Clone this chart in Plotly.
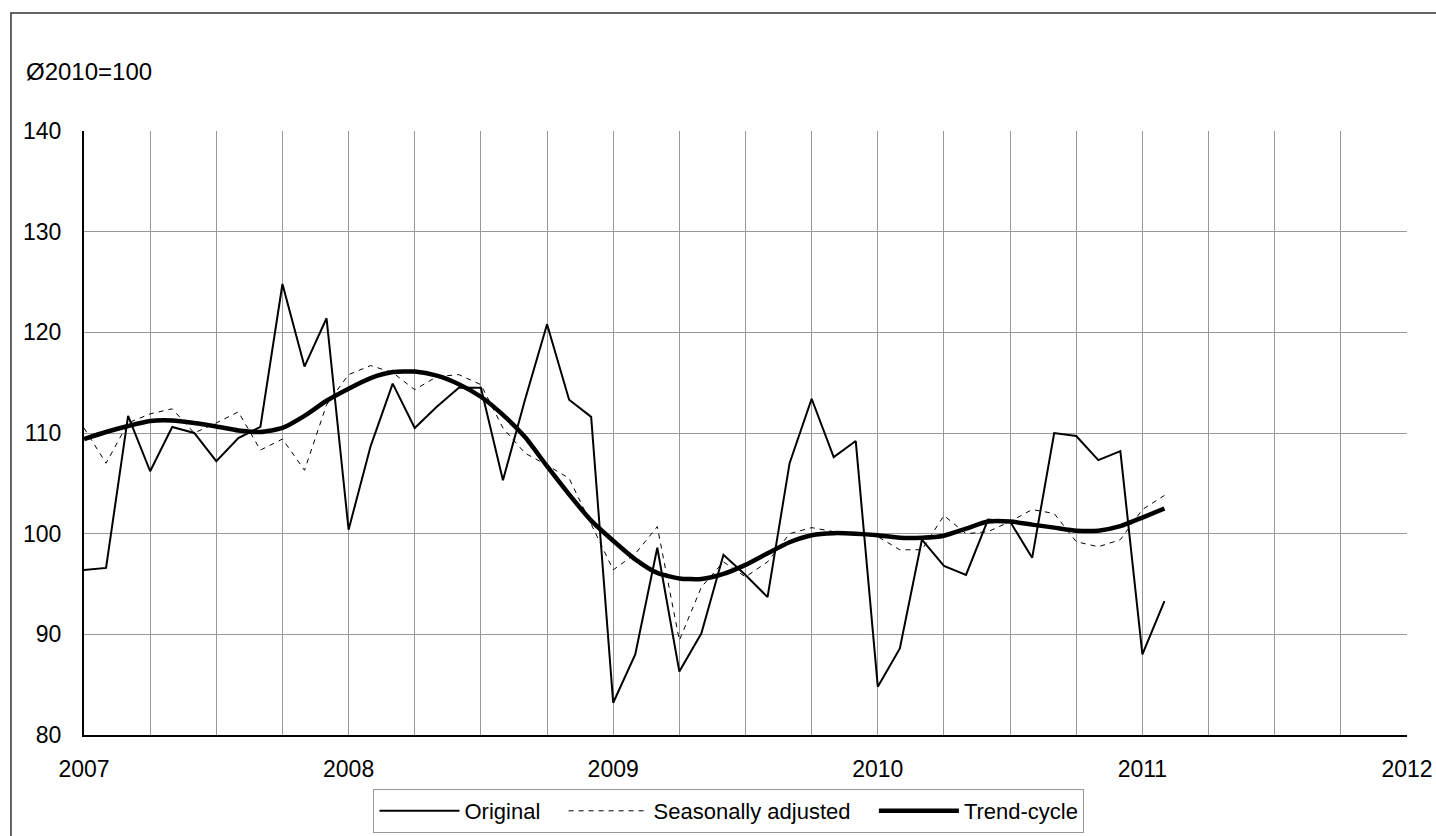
import plotly.graph_objects as go

# Monthly data, Jan 2007 - Feb 2011
original = [96.4, 96.6, 111.7, 106.2, 110.6, 110.0, 107.2, 109.5, 110.6, 124.8, 116.6, 121.4,
            100.4, 108.7, 114.9, 110.5, 112.6, 114.5, 114.5, 105.3, 113.3, 120.8, 113.3, 111.6,
            83.2, 88.0, 98.6, 86.3, 90.1, 97.9, 95.9, 93.7, 107.0, 113.4, 107.6, 109.2,
            84.8, 88.6, 99.4, 96.8, 95.9, 101.4, 101.2, 97.6, 110.0, 109.7, 107.3, 108.2,
            88.0, 93.3]

seasonally_adjusted = [110.5, 107.0, 111.0, 111.9, 112.4, 110.0, 111.0, 112.1, 108.3, 109.4, 106.3, 112.8,
                       115.8, 116.7, 116.0, 114.3, 115.6, 115.8, 114.8, 110.5, 108.0, 106.8, 105.5, 101.0,
                       96.4, 98.0, 100.7, 89.4, 94.7, 97.2, 95.7, 97.2, 100.0, 100.6, 100.2, 100.0,
                       99.7, 98.4, 98.4, 101.8, 100.0, 100.2, 101.2, 102.4, 102.0, 99.2, 98.7, 99.4,
                       102.4, 103.8]

trend_cycle = [109.4, 110.1, 110.7, 111.2, 111.25, 111.0, 110.65, 110.25, 110.1, 110.5, 111.7, 113.2,
               114.4, 115.45, 116.05, 116.1, 115.7, 114.85, 113.6, 111.8, 109.6, 106.7, 103.9, 101.3,
               99.3, 97.45, 96.1, 95.55, 95.5, 96.0, 96.9, 98.05, 99.15, 99.85, 100.05, 100.0,
               99.85, 99.6, 99.6, 99.8, 100.5, 101.2, 101.2, 100.9, 100.6, 100.3, 100.3, 100.75,
               101.6, 102.5]

series_names = ["Original", "Seasonally adjusted", "Trend-cycle"]
year_labels = ["2007", "2008", "2009", "2010", "2011", "2012"]
y_ticks = [80, 90, 100, 110, 120, 130, 140]

months = list(range(len(original)))
year_pos = [12 * i for i in range(len(year_labels))]

FONT = "Liberation Sans, Arial, sans-serif"
PAD = "\u00a0" * 3  # extra spacing after legend entries

fig = go.Figure()
fig.add_trace(go.Scatter(x=months, y=original, mode="lines", name=series_names[0] + PAD,
                         line=dict(color="black", width=2)))
fig.add_trace(go.Scatter(x=months, y=seasonally_adjusted, mode="lines", name=series_names[1] + PAD,
                         line=dict(color="black", width=1, dash="5px,5px")))
fig.add_trace(go.Scatter(x=months, y=trend_cycle, mode="lines", name=series_names[2],
                         line=dict(color="black", width=4.5, shape="spline", smoothing=0.6)))

fig.update_layout(
    width=1436, height=836,
    margin=dict(l=84, r=29, t=131, b=101, autoexpand=False),
    paper_bgcolor="white", plot_bgcolor="white",
    font=dict(family=FONT, size=23, color="black"),
    showlegend=True,
    legend=dict(orientation="h", x=0.4875, xanchor="center", y=-0.0894, yanchor="top",
                bordercolor="#999999", borderwidth=1, font=dict(size=22, family=FONT),
                itemwidth=80, tracegroupgap=0),
    xaxis=dict(range=[0, 60], tickvals=year_pos, ticktext=year_labels,
               showgrid=True, gridcolor="#999999", gridwidth=1,
               minor=dict(dtick=3, tick0=0, showgrid=True, gridcolor="#999999", gridwidth=1),
               showline=True, linecolor="black", linewidth=2, ticks="",
               zeroline=False, ticklen=0, tickfont=dict(size=23), ticklabelstandoff=12),
    yaxis=dict(range=[80, 140], tickvals=y_ticks, showgrid=True, gridcolor="#999999", gridwidth=1,
               showline=True, linecolor="black", linewidth=2, ticks="", zeroline=False,
               tickfont=dict(size=23), ticklabelstandoff=16),
    annotations=[dict(text="Ø2010=100", xref="paper", yref="paper",
                      x=-0.0455, y=1.0977, xanchor="left", yanchor="middle", showarrow=False,
                      font=dict(size=24, family=FONT))],
    shapes=[dict(type="path", xref="paper", yref="paper",
                 path="M -0.0552 -0.3 L -0.0552 1.1954 L 1.05 1.1954",
                 line=dict(color="#333333", width=1.5))],
)

fig.write_html("out.html", config={"displayModeBar": False},
               post_script="document.body.style.margin='0';document.body.style.overflow='hidden';")
